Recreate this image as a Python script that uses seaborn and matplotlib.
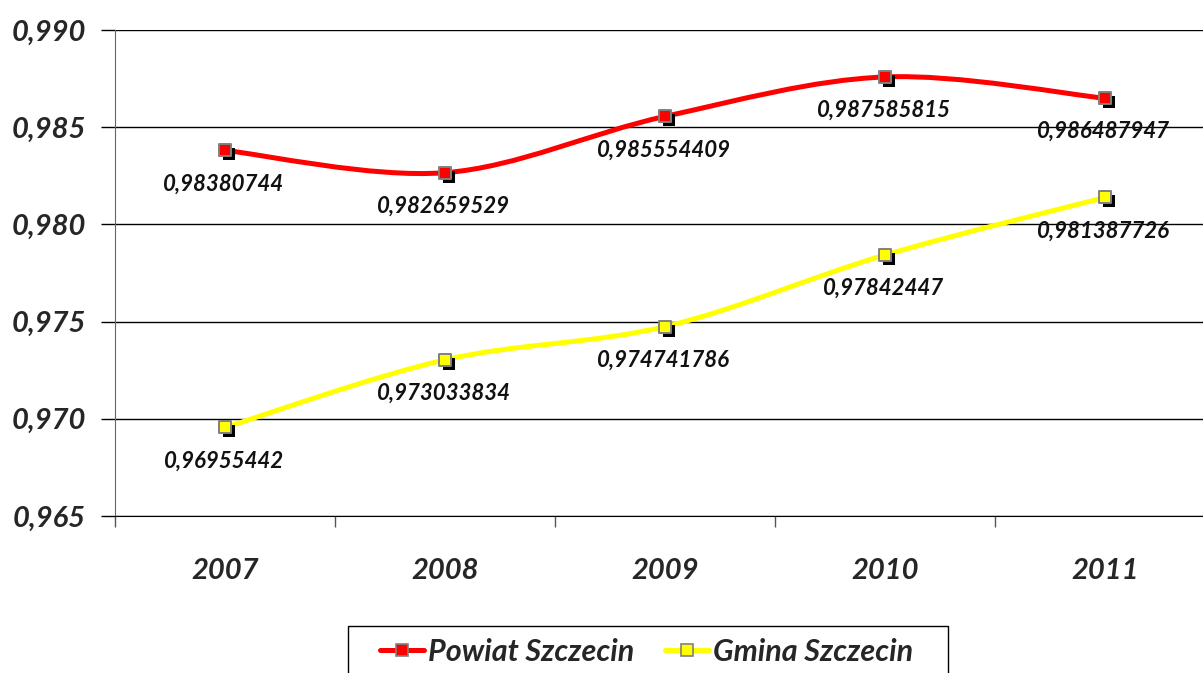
import numpy as np
import pandas as pd
import matplotlib
matplotlib.use("Agg")
import matplotlib.pyplot as plt
import seaborn as sns
from matplotlib.path import Path
from matplotlib.patches import PathPatch, Rectangle
from matplotlib.lines import Line2D
import matplotlib.transforms as mtrans

# data
years = ["2007", "2008", "2009", "2010", "2011"]
powiat = [0.98380744, 0.982659529, 0.985554409, 0.987585815, 0.986487947]
gmina = [0.96955442, 0.973033834, 0.974741786, 0.97842447, 0.981387726]
series_names = ["Powiat Szczecin", "Gmina Szczecin"]
series_colors = ["#ff0000", "#ffff00"]
y_ticks = [0.965, 0.970, 0.975, 0.980, 0.985, 0.990]

sns.set_style("white")
plt.rcParams["font.family"] = ["Lato", "DejaVu Sans"]

df = pd.DataFrame({"year": years, series_names[0]: powiat, series_names[1]: gmina})
long_df = df.melt(id_vars="year", var_name="series", value_name="value")
long_df["x"] = long_df["year"].map({y: i for i, y in enumerate(years)})

fig = plt.figure(figsize=(12.03, 6.73), dpi=100)
ax = fig.add_axes([115 / 1203, 157 / 673, 1100 / 1203, 486 / 673])


def smooth_path(xs, ys):
    # Excel-like smoothed line drawn as cubic bezier segments through the points
    pts = np.column_stack([xs, ys])
    verts = [pts[0]]
    codes = [Path.MOVETO]
    n = len(pts)
    for i in range(n - 1):
        p0 = pts[i - 1] if i > 0 else pts[i]
        p1 = pts[i]
        p2 = pts[i + 1]
        p3 = pts[i + 2] if i + 2 < n else pts[i + 1]
        c1 = p1 + (p2 - p0) / 6
        c2 = p2 - (p3 - p1) / 6
        verts += [c1, c2, p2]
        codes += [Path.CURVE4] * 3
    return Path(verts, codes)


shadow = mtrans.offset_copy(ax.transData, fig=fig, x=4, y=-4, units="dots")

for name, color in zip(series_names, series_colors):
    sub = long_df[long_df["series"] == name]
    ax.add_patch(PathPatch(smooth_path(sub["x"].values, sub["value"].values),
                           facecolor="none", edgecolor=color, lw=3.6,
                           capstyle="round", zorder=3))
    ax.scatter(sub["x"], sub["value"], marker="s", s=80, color="black",
               transform=shadow, zorder=4, linewidths=0)
    sns.scatterplot(data=sub, x="x", y="value", marker="s", s=80, color=color,
                    edgecolor="#808080", linewidth=1.4, ax=ax, zorder=5, legend=False)
    for xv, yv in zip(sub["x"], sub["value"]):
        ax.annotate(f"{yv:.10g}".replace(".", ","), (xv, yv), xytext=(-1, -24),
                    textcoords="offset points", ha="center", va="center",
                    fontsize=16, fontweight="bold", style="italic", color="#111111",
                    zorder=6, annotation_clip=False)

ax.set_xlim(-0.5, len(years) - 0.5)
ax.set_ylim(0.965, 0.990)
ax.set_yticks(y_ticks)
ax.set_yticklabels([f"{v:.3f}".replace(".", ",") for v in y_ticks],
                   fontsize=21, fontweight="bold", style="italic")
ax.yaxis.grid(True, color="black", lw=1.0)
ax.set_axisbelow(True)

ax.set_xticks(range(len(years)))
ax.set_xticklabels(years, fontsize=21, fontweight="bold", style="italic")
ax.set_xticks(np.arange(-0.5, len(years) + 0.5, 1), minor=True)
ax.tick_params(axis="x", which="major", length=0, pad=30)
ax.tick_params(axis="x", which="minor", length=8, width=1, color="#555555", direction="out")
ax.tick_params(axis="y", length=10, width=1, color="black", pad=11, direction="out")
ax.yaxis.set_tick_params(left=True)
ax.xaxis.set_tick_params(which="minor", bottom=True)

for side in ["top", "right"]:
    ax.spines[side].set_visible(False)
ax.spines["left"].set_color("#666666")
ax.spines["bottom"].set_color("black")
ax.set_xlabel("")
ax.set_ylabel("")

# legend box, cut off by the bottom edge like the original
fig.patches.append(Rectangle((348 / 1203, -0.05), 600 / 1203, 1 - 626 / 673 + 0.05,
                             transform=fig.transFigure, fill=False,
                             edgecolor="black", lw=1.0))
handles = [Line2D([0], [0], color=c, lw=3.6, marker="s", markersize=9,
                  markerfacecolor=c, markeredgecolor="#808080", markeredgewidth=1.2)
           for c in series_colors]
leg = fig.legend(handles, series_names, loc="center left",
                 bbox_to_anchor=(380 / 1203, 1 - 652 / 673), ncol=2,
                 frameon=False, prop={"size": 22, "weight": "bold", "style": "italic"},
                 handlelength=1.45, handletextpad=0.12, columnspacing=1.0,
                 borderpad=0, borderaxespad=0)

fig.savefig("out.png", dpi=100)
